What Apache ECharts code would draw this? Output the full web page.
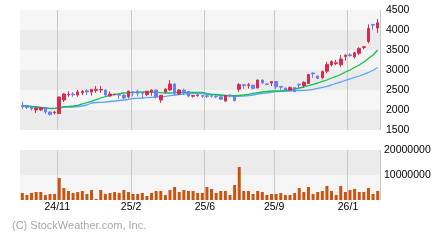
<!DOCTYPE html>
<html>
<head>
<meta charset="utf-8">
<script src="https://cdn.jsdelivr.net/npm/echarts/dist/echarts.min.js"></script>
<style>
html,body{margin:0;padding:0;background:#fff;}
#chart{width:440px;height:240px;}
</style>
</head>
<body>
<div id="chart"></div>
<script>
// ---- data (weekly candles, oldest first) ----
const tickIndex  = [8, 24, 40, 55, 71];
const tickLabels = ['24/11', '25/2', '25/6', '25/9', '26/1'];

const opens  = [2110,2080,2075,2000,2000,2065,1950,1930,1915,2250,2380,2400,2375,2430,2480,2450,2490,2500,2500,2350,
                2380,2390,2375,2330,2450,2470,2440,2385,2450,2500,2250,2450,2500,2650,2400,2500,2465,2345,2360,2360,
                2355,2355,2345,2330,2225,2375,2330,2520,2630,2610,2620,2550,2750,2650,2675,2710,2590,2550,2500,2560,
                2640,2610,2665,2925,2850,2810,2970,3125,3160,3130,3340,3380,3330,3420,3560,3710,4140,4050];
const closes = [2080,2060,2030,2050,2065,1950,1890,1950,2325,2400,2400,2380,2450,2465,2450,2515,2515,2515,2375,2400,
                2395,2370,2300,2475,2430,2420,2420,2470,2500,2335,2370,2525,2650,2420,2500,2460,2350,2360,2375,2345,
                2340,2345,2330,2270,2360,2360,2235,2635,2610,2630,2540,2750,2680,2640,2710,2580,2570,2500,2560,2460,
                2625,2690,2890,2905,2790,2960,3140,3210,3180,3275,3370,3360,3430,3540,3580,4040,4120,4180];
const lows   = [2020,2020,1985,1925,1980,1900,1860,1890,1900,2200,2330,2330,2330,2375,2375,2360,2430,2430,2360,2340,
                2370,2280,2260,2290,2340,2340,2290,2345,2360,2285,2180,2420,2480,2370,2375,2375,2320,2310,2330,2300,
                2300,2310,2290,2250,2210,2315,2215,2450,2525,2535,2510,2540,2650,2620,2600,2525,2500,2490,2480,2450,
                2525,2560,2650,2800,2780,2770,2920,3090,3120,3080,3230,3330,3290,3370,3520,3670,4000,3930];
const highs  = [2210,2115,2085,2060,2070,2075,1960,1970,2330,2420,2470,2450,2500,2500,2520,2520,2600,2600,2510,2470,
                2400,2400,2390,2480,2480,2510,2450,2475,2505,2505,2375,2540,2750,2670,2520,2535,2470,2365,2390,2375,
                2365,2375,2360,2360,2365,2385,2350,2670,2650,2675,2625,2760,2760,2670,2715,2715,2600,2560,2590,2565,
                2665,2720,2900,2940,2855,2990,3200,3240,3250,3375,3390,3420,3440,3570,3600,4140,4145,4270];
const maShort = [2100,2100,2093,2083,2068,2058,2043,2043,2058,2083,2088,2100,2118,2150,2183,2218,2258,2300,2333,2368,
                 2393,2408,2425,2433,2443,2443,2450,2450,2450,2443,2433,2425,2425,2433,2443,2443,2443,2443,2443,2443,
                 2413,2393,2393,2375,2368,2358,2358,2368,2375,2393,2413,2433,2450,2463,2475,2475,2475,2488,2500,2525,
                 2550,2575,2608,2643,2675,2713,2750,2800,2838,2888,2950,3000,3063,3125,3200,3288,3375,3500];
const maLong  = [2113,2100,2083,2068,2050,2043,2033,2033,2050,2068,2075,2075,2088,2100,2125,2175,2188,2193,2200,2213,
                 2225,2238,2250,2263,2288,2293,2300,2308,2318,2325,2333,2343,2358,2375,2388,2400,2408,2413,2413,2408,
                 2393,2383,2375,2368,2358,2350,2343,2343,2350,2358,2375,2400,2418,2425,2443,2458,2468,2475,2475,2483,
                 2488,2493,2500,2518,2538,2563,2593,2625,2668,2700,2743,2775,2813,2850,2893,2938,2993,3063];
const volumes = [2.8,2.0,2.8,3.2,3.2,2.0,2.4,2.4,8.8,4.8,3.6,2.8,3.2,3.6,2.4,4.0,0.4,4.0,2.4,2.8,
                 3.2,2.8,4.0,3.2,2.4,2.4,2.8,1.6,2.8,3.6,3.6,2.0,4.0,5.2,3.2,4.0,3.6,3.6,2.8,2.8,
                 5.2,4.4,2.8,3.6,3.6,2.0,6.0,13.2,3.6,3.6,2.4,3.6,3.2,2.0,2.4,2.4,2.8,2.0,2.0,2.8,
                 4.8,3.2,5.2,2.4,3.2,3.6,5.6,3.6,2.0,5.6,3.2,4.0,4.4,3.2,3.2,4.8,2.4,3.6]; // millions of shares
const priceTicks = [1500, 4500, 500];     // min, max, step
const volumeTicks = [0, 20000000, 10000000];

const categories = opens.map((_, i) => String(i));
const candleData = opens.map((o, i) => [o, closes[i], lows[i], highs[i]]);
const volumeData = volumes.map(v => Math.round(v * 1000000));

const FONT = 'Liberation Sans, Arial, sans-serif';
const gridColor = '#c8c8c8';
const isTick = (i) => tickIndex.indexOf(i) >= 0;

const chart = echarts.init(document.getElementById('chart'), null, {renderer: 'canvas'});
chart.setOption({
  animation: false,
  backgroundColor: '#ffffff',
  grid: [
    {left: 20, top: 10, width: 360, height: 120},
    {left: 20, top: 150, width: 360, height: 50}
  ],
  xAxis: [
    {type: 'category', gridIndex: 0, data: categories, boundaryGap: true,
     axisLine: {show: false}, axisTick: {show: false}, axisLabel: {show: false},
     splitLine: {show: true, interval: (i) => isTick(i), lineStyle: {color: gridColor, width: 1}}},
    {type: 'category', gridIndex: 1, data: categories, boundaryGap: true,
     axisLine: {show: false}, axisTick: {show: false},
     axisLabel: {show: true, interval: (i) => isTick(i), margin: 2,
       formatter: (v, i) => tickLabels[tickIndex.indexOf(i)] || '',
       color: '#000', fontSize: 10.5, fontFamily: FONT, padding: [0, 4, 0, 0]},
     splitLine: {show: true, interval: (i) => isTick(i), lineStyle: {color: gridColor, width: 1}}}
  ],
  yAxis: [
    {type: 'value', gridIndex: 0, position: 'right', min: priceTicks[0], max: priceTicks[1], interval: priceTicks[2],
     axisLine: {show: false}, axisTick: {show: false}, splitLine: {show: false},
     splitArea: {show: true, areaStyle: {color: ['#ebebeb', '#f5f5f5']}},
     axisLabel: {margin: 6, color: '#000', fontSize: 10.5, fontFamily: FONT, align: 'left',
       formatter: (v) => String(v)}},
    {type: 'value', gridIndex: 1, position: 'right', min: volumeTicks[0], max: volumeTicks[1], interval: volumeTicks[2],
     axisLine: {show: false}, axisTick: {show: false}, splitLine: {show: false},
     splitArea: {show: true, areaStyle: {color: ['#f5f5f5', '#ebebeb']}},
     axisLabel: {margin: 4, color: '#000', fontSize: 10.5, fontFamily: FONT, align: 'left',
       formatter: (v) => v === 0 ? '' : String(v)}}
  ],
  series: [
    {type: 'line', xAxisIndex: 0, yAxisIndex: 0, data: maLong, symbol: 'none',
     lineStyle: {color: '#5aa6f7', width: 1.3}, z: 2},
    {type: 'line', xAxisIndex: 0, yAxisIndex: 0, data: maShort, symbol: 'none',
     lineStyle: {color: '#11c04d', width: 1.3}, z: 3},
    {type: 'candlestick', xAxisIndex: 0, yAxisIndex: 0, data: candleData, barWidth: 3,
     itemStyle: {color: '#d62a4e', color0: '#6b7ef3', borderColor: '#d62a4e', borderColor0: '#6b7ef3',
                 borderColorDoji: '#d62a4e', borderWidth: 1}, z: 4},
    {type: 'bar', xAxisIndex: 1, yAxisIndex: 1, data: volumeData, barWidth: 3,
     itemStyle: {color: '#c9540f'}}
  ],
  graphic: [
    {type: 'text', left: 12, top: 220,
     style: {text: '(C) StockWeather.com, Inc.', fill: '#a8a8a8', font: '11px ' + FONT}}
  ]
});
</script>
</body>
</html>
